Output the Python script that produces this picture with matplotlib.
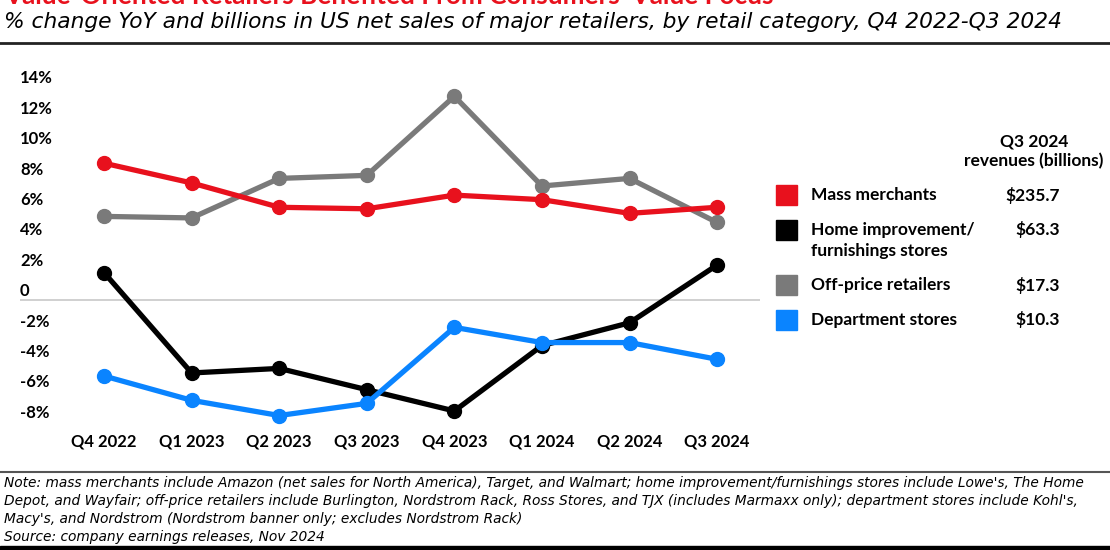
import matplotlib.pyplot as plt
from matplotlib.patches import Rectangle

W, H = 1110, 550

quarters = ['Q4 2022', 'Q1 2023', 'Q2 2023', 'Q3 2023', 'Q4 2023', 'Q1 2024', 'Q2 2024', 'Q3 2024']
categories = ['Mass merchants', 'Home improvement/\nfurnishings stores', 'Off-price retailers', 'Department stores']
revenues = ['$235.7', '$63.3', '$17.3', '$10.3']
colors = ['#e8111d', '#000000', '#7a7a7a', '#0a84ff']

mass = [9.0, 7.7, 6.1, 6.0, 6.9, 6.6, 5.7, 6.1]
home = [1.8, -4.8, -4.5, -5.9, -7.3, -3.0, -1.5, 2.3]
offprice = [5.5, 5.4, 8.0, 8.2, 13.4, 7.5, 8.0, 5.1]
dept = [-5.0, -6.6, -7.6, -6.8, -1.8, -2.8, -2.8, -3.9]

yticks = [14, 12, 10, 8, 6, 4, 2, 0, -2, -4, -6, -8]

title = "Value-Oriented Retailers Benefited From Consumers' Value Focus"
subtitle = '% change YoY and billions in US net sales of major retailers, by retail category, Q4 2022-Q3 2024'
note = ("Note: mass merchants include Amazon (net sales for North America), Target, and Walmart; home improvement/furnishings stores include Lowe's, The Home\n"
        "Depot, and Wayfair; off-price retailers include Burlington, Nordstrom Rack, Ross Stores, and TJX (includes Marmaxx only); department stores include Kohl's,\n"
        "Macy's, and Nordstrom (Nordstrom banner only; excludes Nordstrom Rack)\n"
        "Source: company earnings releases, Nov 2024")

plt.rcParams['font.family'] = ['Lato', 'DejaVu Sans']


def fx(px):
    return px / W


def fy(py):
    return 1 - py / H


fig = plt.figure(figsize=(W / 100, H / 100), dpi=100)

# axes placed in pixel terms: y = 0 at pixel 300, 15.2 px per point
ymin, ymax = -8.5, 15.0
ax = fig.add_axes([fx(20), fy(300 + 15.2 * -ymin), fx(740), (ymax - ymin) * 15.2 / H])
x = list(range(len(quarters)))

series = [offprice, mass, home, dept]
series_colors = [colors[2], colors[0], colors[1], colors[3]]
for vals, c in zip(series, series_colors):
    ax.plot(x, vals, color=c, lw=3.8, marker='o', ms=10, solid_capstyle='round', zorder=3)

ax.axhline(0, color='#c8c8c8', lw=1.2, zorder=1)
ax.set_xlim(-0.96, 7.49)
ax.set_ylim(ymin, ymax)
ax.set_xticks(x)
ax.set_xticklabels(quarters, fontsize=12, fontweight='bold')
ax.tick_params(axis='x', length=0, pad=3)
ax.set_yticks([])
for v in yticks:
    lab = '0' if v == 0 else f'{v}%'
    ax.text(0, v + 0.05, lab, transform=ax.get_yaxis_transform(), ha='left', va='bottom',
            fontsize=12, fontweight='bold')
for s in ax.spines.values():
    s.set_visible(False)

# title (cut off at top, as in the source image) and subtitle
fig.text(fx(4), fy(4), title, color='#e8111d', fontsize=18.8, fontweight='bold', ha='left', va='baseline')
fig.text(fx(4), fy(22), subtitle, fontsize=15.7, style='italic', family='DejaVu Sans',
         ha='left', va='center')
fig.add_artist(plt.Line2D([0, 1], [fy(43), fy(43)], color='#222222', lw=2))

# legend with revenues
fig.text(fx(1034), fy(151), 'Q3 2024\nrevenues (billions)', ha='center', va='center',
         fontsize=12.5, fontweight='bold', linespacing=1.25)
leg_y = [195, 230, 285, 320]
for cat, rev, c, y in zip(categories, revenues, colors, leg_y):
    fig.add_artist(Rectangle((fx(776), fy(y + 10)), fx(21), 20 / H, color=c, transform=fig.transFigure))
    fig.text(fx(811), fy(y - 8) if '\n' in cat else fy(y), cat, ha='left',
             va='top' if '\n' in cat else 'center',
             fontsize=12.5, fontweight='bold', linespacing=1.35)
    fig.text(fx(1060), fy(y), rev, ha='right', va='center', fontsize=12.5, fontweight='bold')

# notes
fig.add_artist(plt.Line2D([0, 1], [fy(472), fy(472)], color='#555555', lw=1.5))
fig.text(fx(4), fy(476), note, ha='left', va='top', fontsize=9.9, style='italic',
         family='DejaVu Sans', linespacing=1.36)
fig.add_artist(Rectangle((0, 0), 1, 4.5 / H, color='black', transform=fig.transFigure))

fig.savefig('out.png', dpi=100)
